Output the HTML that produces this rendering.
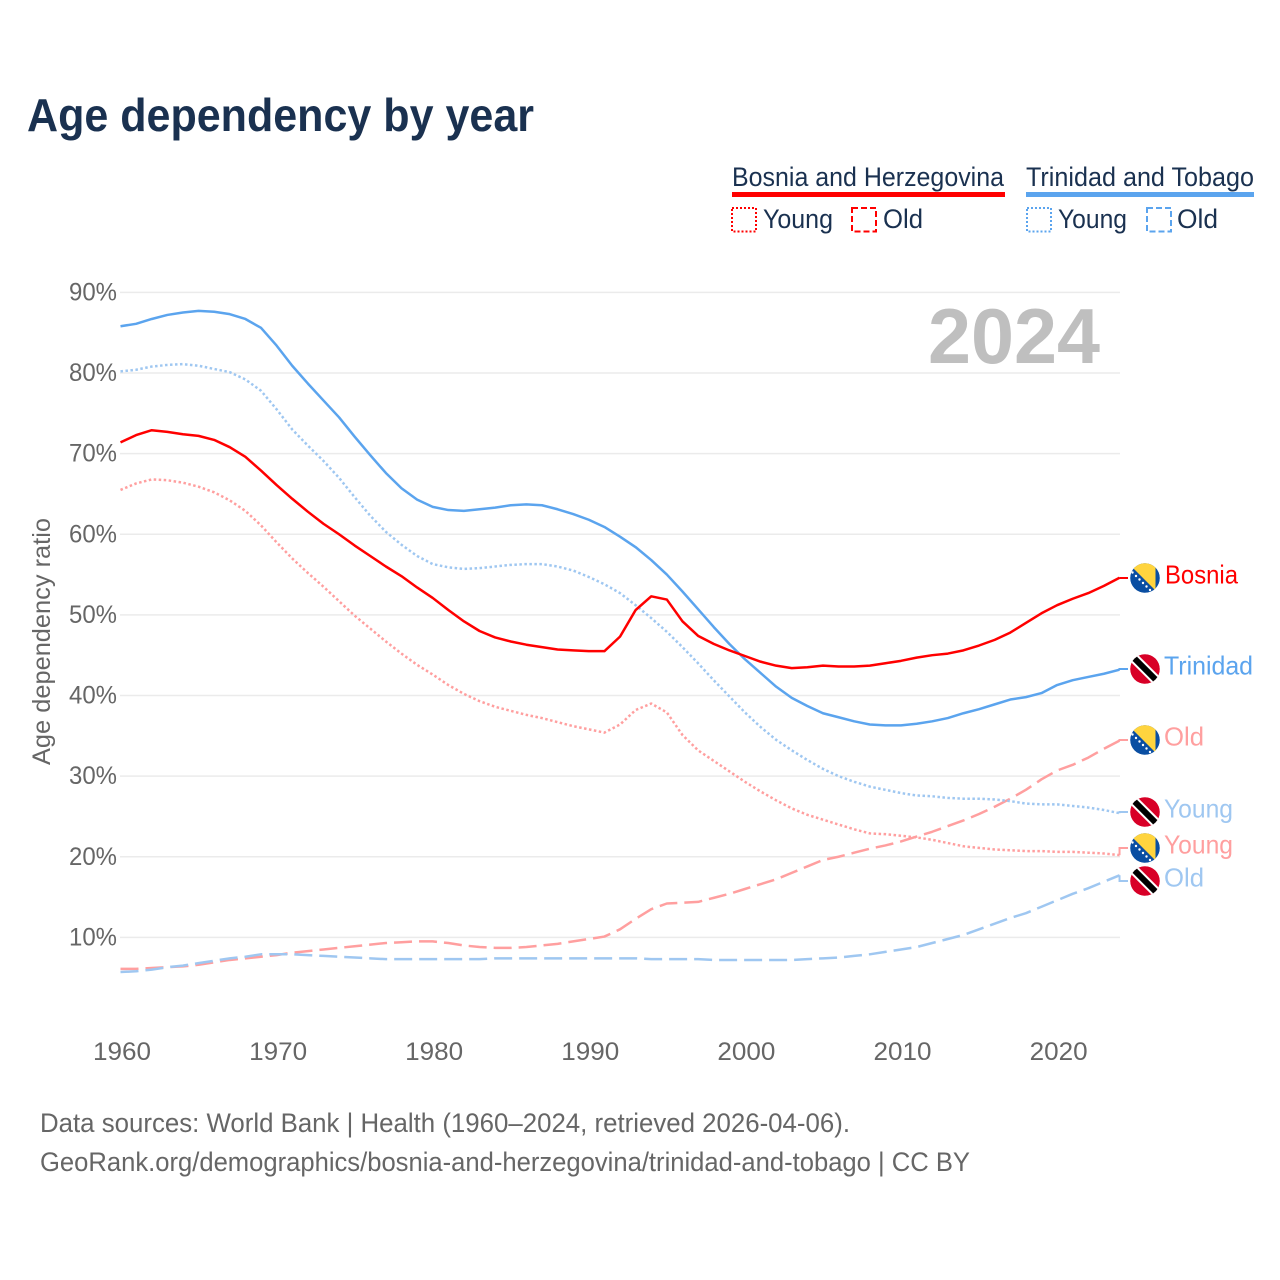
<!DOCTYPE html>
<html lang="en">
<head>
<meta charset="utf-8">
<title>Age dependency by year</title>
<style>
html,body{margin:0;padding:0;background:#fff;width:1280px;height:1280px;overflow:hidden}
svg{display:block}
text{font-family:"Liberation Sans",sans-serif}
</style>
</head>
<body>
<svg id="chart" xmlns="http://www.w3.org/2000/svg" width="1280" height="1280" viewBox="0 0 1280 1280">
  <defs>
    <clipPath id="flag-clip"><circle cx="0" cy="0" r="14.8"></circle></clipPath>
  </defs>
  <text x="27" y="131" font-size="46" font-weight="700" fill="#1a3150" textLength="507" lengthAdjust="spacingAndGlyphs">Age dependency by year</text>

  <g font-size="27" fill="#1a3150">
    <text x="732" y="186" textLength="272" lengthAdjust="spacingAndGlyphs">Bosnia and Herzegovina</text>
    <rect x="732" y="192" width="273" height="5" fill="#ff0000"></rect>
    <rect x="732" y="208" width="24" height="23.5" fill="none" stroke="#ff0000" stroke-width="2" stroke-dasharray="2 2"></rect>
    <text x="763" y="228" textLength="70" lengthAdjust="spacingAndGlyphs">Young</text>
    <rect x="852" y="208" width="24" height="23.5" fill="none" stroke="#ff0000" stroke-width="2" stroke-dasharray="6 3"></rect>
    <text x="883" y="228" textLength="40" lengthAdjust="spacingAndGlyphs">Old</text>
    <text x="1026" y="186" textLength="228" lengthAdjust="spacingAndGlyphs">Trinidad and Tobago</text>
    <rect x="1026" y="192" width="228" height="5" fill="#5ba4ee"></rect>
    <rect x="1027" y="208" width="24" height="23.5" fill="none" stroke="#5ba4ee" stroke-width="2" stroke-dasharray="2 2"></rect>
    <text x="1058" y="228" textLength="69" lengthAdjust="spacingAndGlyphs">Young</text>
    <rect x="1147" y="208" width="24" height="23.5" fill="none" stroke="#5ba4ee" stroke-width="2" stroke-dasharray="6 3"></rect>
    <text x="1177" y="228" textLength="41" lengthAdjust="spacingAndGlyphs">Old</text>
  </g>

  <g id="grid"></g>
  <g id="y-ticks"></g>
  <g id="x-ticks"></g>
  <text transform="translate(50,641.5) rotate(-90)" text-anchor="middle" font-size="25" fill="#666666" textLength="247" lengthAdjust="spacingAndGlyphs">Age dependency ratio</text>
  <text x="928" y="363" font-size="78" font-weight="700" fill="#bfbfbf" textLength="172" lengthAdjust="spacingAndGlyphs">2024</text>
  <g id="series"></g>
  <g id="end-labels"></g>

  <g font-size="27" fill="#666666">
    <text x="40" y="1132" textLength="810" lengthAdjust="spacingAndGlyphs">Data sources: World Bank | Health (1960–2024, retrieved 2026-04-06).</text>
    <text x="40" y="1171" textLength="930" lengthAdjust="spacingAndGlyphs">GeoRank.org/demographics/bosnia-and-herzegovina/trinidad-and-tobago | CC BY</text>
  </g>
</svg>
<script>
const firstYear = 1960;
const yTickValues = [10, 20, 30, 40, 50, 60, 70, 80, 90];
const xTickYears = [1960, 1970, 1980, 1990, 2000, 2010, 2020];

const trinidadTotal = [85.8,86.1,86.7,87.2,87.5,87.7,87.6,87.3,86.7,85.6,83.4,80.9,78.7,76.6,74.5,72.1,69.8,67.6,65.7,64.3,63.4,63.0,62.9,63.1,63.3,63.6,63.7,63.6,63.1,62.5,61.8,60.9,59.7,58.4,56.8,55.0,52.9,50.7,48.5,46.4,44.5,42.8,41.1,39.7,38.7,37.8,37.3,36.8,36.4,36.3,36.3,36.5,36.8,37.2,37.8,38.3,38.9,39.5,39.8,40.3,41.3,41.9,42.3,42.7,43.2];
const trinidadYoung = [80.2,80.4,80.8,81.0,81.1,80.9,80.5,80.1,79.2,77.8,75.5,73.0,71.0,69.1,67.0,64.6,62.3,60.3,58.7,57.3,56.3,55.9,55.7,55.8,56.0,56.2,56.3,56.3,56.0,55.5,54.7,53.8,52.7,51.2,49.6,47.9,46.0,44.0,41.9,39.9,37.9,36.1,34.5,33.2,32.0,30.9,30.0,29.3,28.7,28.3,27.9,27.6,27.5,27.3,27.2,27.2,27.1,26.9,26.6,26.5,26.5,26.3,26.1,25.8,25.4];
const trinidadOld = [5.7,5.8,6.0,6.3,6.5,6.8,7.1,7.4,7.6,7.9,7.9,7.9,7.8,7.7,7.6,7.5,7.4,7.3,7.3,7.3,7.3,7.3,7.3,7.3,7.4,7.4,7.4,7.4,7.4,7.4,7.4,7.4,7.4,7.4,7.3,7.3,7.3,7.3,7.2,7.2,7.2,7.2,7.2,7.2,7.3,7.4,7.5,7.7,7.9,8.2,8.5,8.8,9.3,9.8,10.3,11.0,11.7,12.4,13.0,13.8,14.6,15.4,16.1,16.9,17.7];
const bosniaTotal = [71.4,72.3,72.9,72.7,72.4,72.2,71.7,70.8,69.6,67.9,66.1,64.4,62.8,61.3,60.0,58.6,57.3,56.0,54.8,53.4,52.1,50.6,49.2,48.0,47.2,46.7,46.3,46.0,45.7,45.6,45.5,45.5,47.3,50.6,52.3,51.9,49.2,47.4,46.4,45.6,44.9,44.2,43.7,43.4,43.5,43.7,43.6,43.6,43.7,44.0,44.3,44.7,45.0,45.2,45.6,46.2,46.9,47.8,49.0,50.2,51.2,52.0,52.7,53.6,54.6];
const bosniaYoung = [65.5,66.3,66.8,66.7,66.4,65.9,65.2,64.2,62.9,61.1,59.0,57.0,55.2,53.5,51.7,49.9,48.3,46.7,45.2,43.8,42.6,41.3,40.2,39.3,38.6,38.1,37.6,37.2,36.7,36.2,35.8,35.4,36.4,38.2,39.0,37.9,35.1,33.2,31.9,30.6,29.3,28.1,27.0,26.0,25.2,24.6,24.0,23.4,22.9,22.8,22.6,22.4,22.1,21.7,21.3,21.1,20.9,20.8,20.7,20.7,20.6,20.6,20.5,20.4,20.2];
const bosniaOld = [6.1,6.1,6.2,6.3,6.4,6.6,6.9,7.2,7.4,7.6,7.8,8.1,8.3,8.5,8.7,8.9,9.1,9.3,9.4,9.5,9.5,9.3,9.0,8.8,8.7,8.7,8.8,9.0,9.2,9.5,9.8,10.1,11.0,12.3,13.5,14.2,14.3,14.4,14.9,15.4,16.0,16.6,17.2,18.0,18.8,19.6,20.0,20.5,21.0,21.4,21.9,22.5,23.1,23.8,24.5,25.3,26.2,27.2,28.3,29.6,30.7,31.4,32.3,33.4,34.4];

const SVG_NS = 'http://www.w3.org/2000/svg';
const xScale = function (year) { return 120.5 + (year - firstYear) * 15.61; };
const yScale = function (value) { return 1018 - value * 8.0625; };

const gridGroup = document.getElementById('grid');
const yTickGroup = document.getElementById('y-ticks');
const xTickGroup = document.getElementById('x-ticks');
const seriesGroup = document.getElementById('series');
const labelGroup = document.getElementById('end-labels');

yTickValues.forEach(function (value) {
  const line = document.createElementNS(SVG_NS, 'line');
  
  
  line.setAttribute('x1', 120);
  line.setAttribute('x2', 1120);
  line.setAttribute('y1', yScale(value));
  line.setAttribute('y2', yScale(value));
  line.setAttribute('stroke', '#ebebeb');
  line.setAttribute('stroke-width', '1.5');
  gridGroup.appendChild(line);

  const label = document.createElementNS(SVG_NS, 'text');
  
  
  label.setAttribute('x', 69);
  label.setAttribute('y', yScale(value) + 8);
  label.setAttribute('font-size', '25');
  label.setAttribute('fill', '#666666');
  label.setAttribute('textLength', '48');
  label.setAttribute('lengthAdjust', 'spacingAndGlyphs');
  label.textContent = value + '%';
  yTickGroup.appendChild(label);
});

xTickYears.forEach(function (year) {
  const label = document.createElementNS(SVG_NS, 'text');
  
  
  label.setAttribute('x', xScale(year) - 27.5);
  label.setAttribute('y', 1060);
  label.setAttribute('font-size', '25');
  label.setAttribute('fill', '#666666');
  label.setAttribute('textLength', '58');
  label.setAttribute('lengthAdjust', 'spacingAndGlyphs');
  label.textContent = year;
  xTickGroup.appendChild(label);
});

const DOTTED = '2.5 2.5';
const DASHED = '18 7';
const seriesList = [
  { key: 'bosnia-old', values: bosniaOld, color: '#ff9f9f', dash: DASHED },
  { key: 'trinidad-old', values: trinidadOld, color: '#9fc7f1', dash: DASHED },
  { key: 'trinidad-young', values: trinidadYoung, color: '#9fc7f1', dash: DOTTED },
  { key: 'bosnia-young', values: bosniaYoung, color: '#ff9f9f', dash: DOTTED },
  { key: 'trinidad-total', values: trinidadTotal, color: '#5ba4ee', dash: '' },
  { key: 'bosnia-total', values: bosniaTotal, color: '#ff0000', dash: '' }
];

seriesList.forEach(function (s) {
  const d = s.values.map(function (v, i) {
    return (i ? 'L' : 'M') + xScale(firstYear + i).toFixed(2) + ',' + yScale(v).toFixed(2);
  }).join(' ');
  const path = document.createElementNS(SVG_NS, 'path');
  
  
  path.setAttribute('d', d);
  path.setAttribute('fill', 'none');
  path.setAttribute('stroke', s.color);
  path.setAttribute('stroke-width', '2.5');
  path.setAttribute('stroke-linejoin', 'round');
  if (s.dash) {
    path.setAttribute('stroke-dasharray', s.dash);
  }
  seriesGroup.appendChild(path);
});

function addBosniaFlag(parent) {
  const parts = [
    ['circle', { r: 15, fill: '#0a4ea2' }],
    ['polygon', { points: '-20,-18 10.5,-18 10.5,12.5', fill: '#ffd43e' }]
  ];
  parts.forEach(function (p) {
    const el = document.createElementNS(SVG_NS, p[0]);
    Object.keys(p[1]).forEach(function (k) { el.setAttribute(k, p[1][k]); });
    parent.appendChild(el);
  });
  for (let t = 0; t < 6; t++) {
    const star = document.createElementNS(SVG_NS, 'circle');
    star.setAttribute('cx', -12.5 + t * 3.5);
    star.setAttribute('cy', -5.5 + t * 3.5);
    star.setAttribute('r', 1.2);
    star.setAttribute('fill', '#ffffff');
    parent.appendChild(star);
  }
}

function addTrinidadFlag(parent) {
  const parts = [
    ['circle', { r: 15, fill: '#d80027' }],
    ['line', { x1: -15, y1: -15, x2: 15, y2: 15, stroke: '#ffffff', 'stroke-width': 10 }],
    ['line', { x1: -15, y1: -15, x2: 15, y2: 15, stroke: '#000000', 'stroke-width': 6 }]
  ];
  parts.forEach(function (p) {
    const el = document.createElementNS(SVG_NS, p[0]);
    Object.keys(p[1]).forEach(function (k) { el.setAttribute(k, p[1][k]); });
    parent.appendChild(el);
  });
}

const endLabels = [
  { key: 'bosnia-total', text: 'Bosnia', values: bosniaTotal, color: '#ff0000', flag: 'bosnia', flagY: 578, textX: 1165, width: 73 },
  { key: 'trinidad-total', text: 'Trinidad', values: trinidadTotal, color: '#5ba4ee', flag: 'trinidad', flagY: 669, textX: 1164, width: 89 },
  { key: 'bosnia-old', text: 'Old', values: bosniaOld, color: '#ff9f9f', flag: 'bosnia', flagY: 740, textX: 1164, width: 40 },
  { key: 'trinidad-young', text: 'Young', values: trinidadYoung, color: '#9fc7f1', flag: 'trinidad', flagY: 812, textX: 1164, width: 69 },
  { key: 'bosnia-young', text: 'Young', values: bosniaYoung, color: '#ff9f9f', flag: 'bosnia', flagY: 848, textX: 1164, width: 69 },
  { key: 'trinidad-old', text: 'Old', values: trinidadOld, color: '#9fc7f1', flag: 'trinidad', flagY: 881, textX: 1164, width: 40 }
];

endLabels.forEach(function (item) {
  const lastIndex = item.values.length - 1;
  const endX = xScale(firstYear + lastIndex);
  const endY = yScale(item.values[lastIndex]);

  const connector = document.createElementNS(SVG_NS, 'path');
  
  
  connector.setAttribute('d', 'M' + endX.toFixed(2) + ',' + endY.toFixed(2) + ' V' + item.flagY + ' H1128');
  connector.setAttribute('fill', 'none');
  connector.setAttribute('stroke', item.color);
  connector.setAttribute('stroke-width', '2');
  labelGroup.appendChild(connector);

  const flag = document.createElementNS(SVG_NS, 'g');
  
  
  flag.setAttribute('transform', 'translate(1145,' + item.flagY + ')');
  flag.setAttribute('clip-path', 'url(#flag-clip)');
  if (item.flag === 'bosnia') {
    addBosniaFlag(flag);
  } else {
    addTrinidadFlag(flag);
  }
  labelGroup.appendChild(flag);

  const label = document.createElementNS(SVG_NS, 'text');
  
  
  label.setAttribute('x', item.textX);
  label.setAttribute('y', item.flagY + 5.5);
  label.setAttribute('font-size', '26');
  label.setAttribute('fill', item.color);
  label.setAttribute('textLength', item.width);
  label.setAttribute('lengthAdjust', 'spacingAndGlyphs');
  label.textContent = item.text;
  labelGroup.appendChild(label);
});
</script>
</body>
</html>
